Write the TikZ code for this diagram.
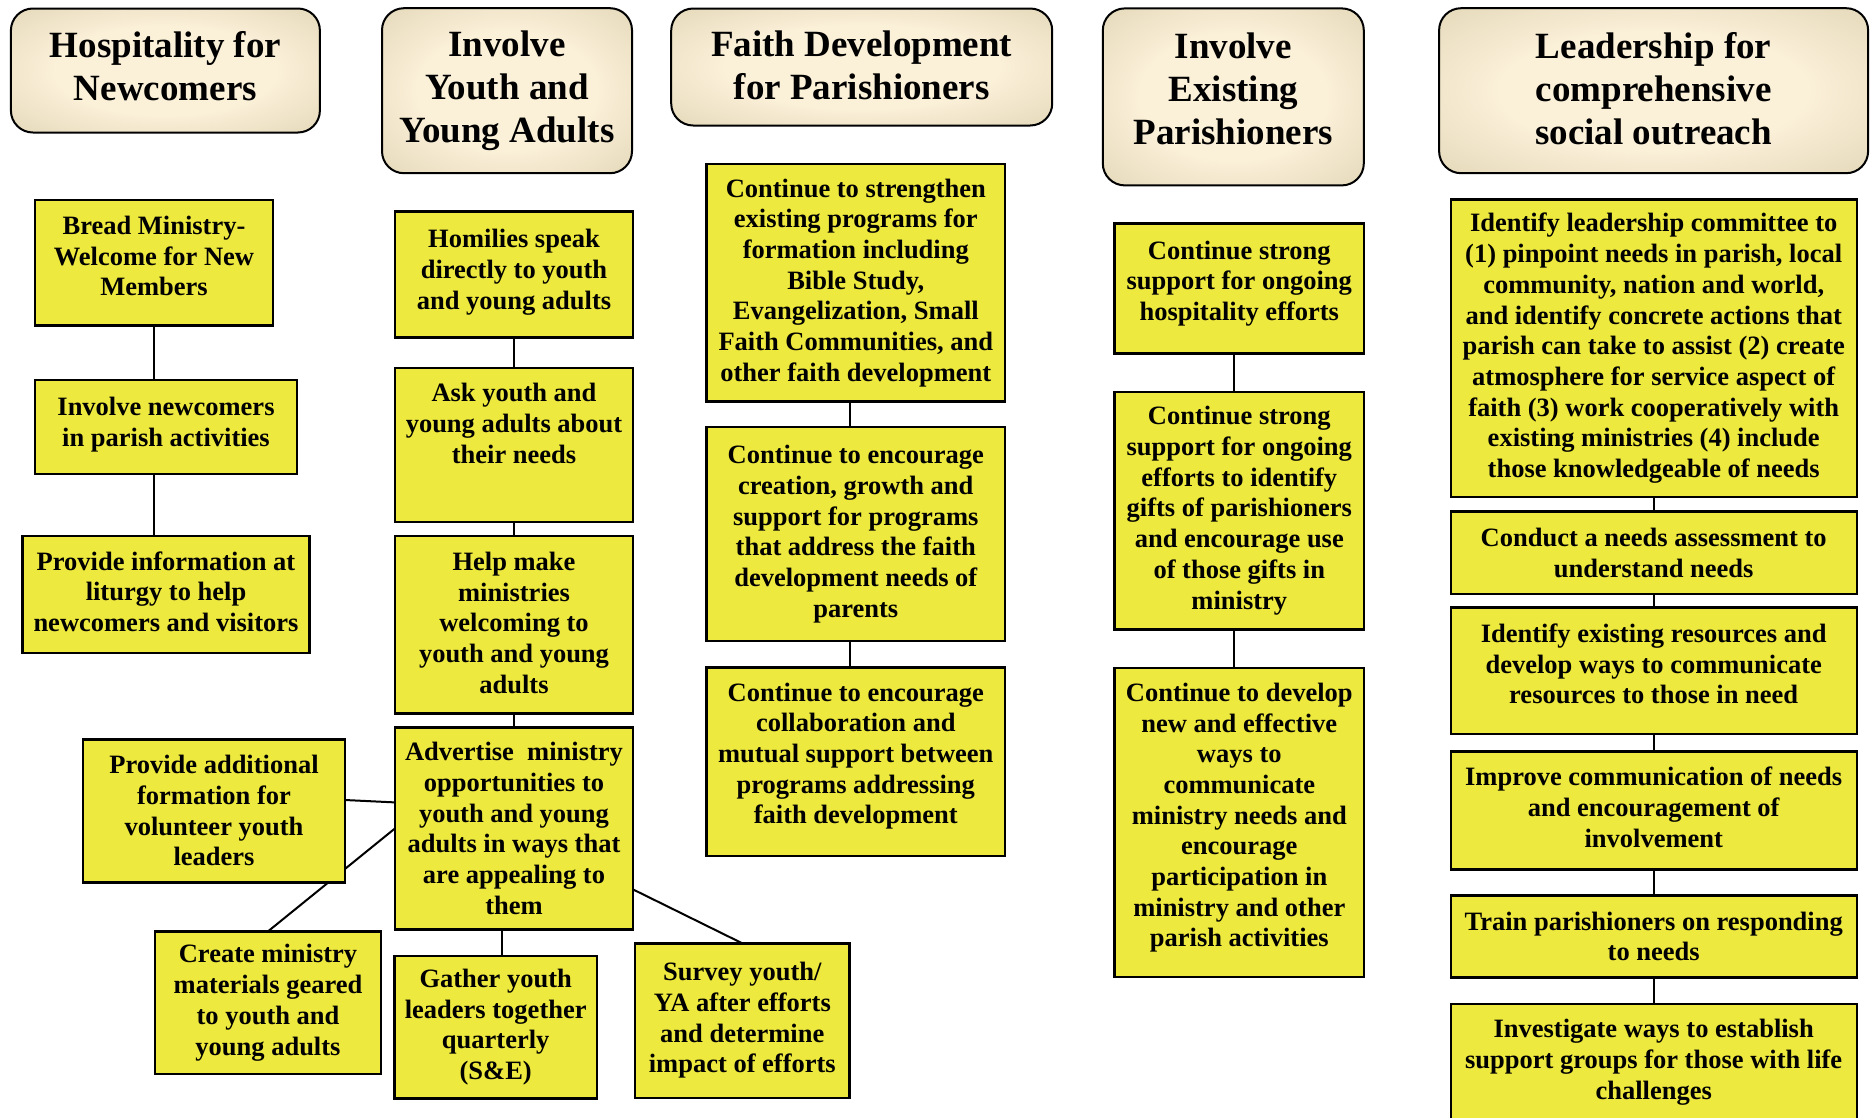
\documentclass[tikz,border=0pt]{standalone}
\usepackage{fontspec}
\setmainfont{Liberation Serif}
\usetikzlibrary{positioning,backgrounds}
\definecolor{boxyellow}{RGB}{238,233,62}
\definecolor{hdin}{RGB}{251,240,216}
\definecolor{hdout}{RGB}{210,198,162}
\pgfdeclareradialshading{hdrshade}{\pgfpoint{0bp}{0bp}}{color(0bp)=(hdin); color(18bp)=(hdin); color(50bp)=(hdout); color(75bp)=(hdout)}
% extra depth under the last line, to lift the text in its box
\newcommand\droop[1]{\rule[-#1]{0pt}{#1}}

\begin{document}
\begin{tikzpicture}[x=1pt,y=-1pt,
  goal/.style={draw,line width=2pt,rounded corners=22pt,shade,shading=hdrshade,
    align=center,inner sep=2pt,outer sep=0pt,font=\bfseries\fontsize{37}{43}\selectfont},
  task/.style={draw,line width=2.4pt,fill=boxyellow,align=center,inner sep=3pt,
    outer sep=0pt,font=\bfseries\fontsize{26.5}{30.7}\selectfont},
  link/.style={line width=2pt}]
	\useasboundingbox (0,0) rectangle (1873,1117);
	% headers
	\node[goal,minimum width=309pt,minimum height=124pt] (h1) at (165.4,70.5) {Hospitality for\\Newcomers\droop{10pt}};
	\node[goal,minimum width=250pt,minimum height=165pt] (h2) at (507,90.7) {Involve\\Youth and\\Young Adults};
	\node[goal,minimum width=381pt,minimum height=117pt] (h3) at (861.7,67) {Faith Development\\for Parishioners\droop{4pt}};
	\node[goal,minimum width=261pt,minimum height=177pt] (h4) at (1233.3,96.9) {Involve\\Existing\\Parishioners\droop{17pt}};
	\node[goal,minimum width=429pt,minimum height=165pt] (h5) at (1653.6,90.7) {Leadership for\\comprehensive\\social outreach\droop{5pt}};
	% newcomers
	\node[task,minimum width=238pt,minimum height=125.7pt] (n1) at (154,262.8) {Bread Ministry-\\Welcome for New\\Members\droop{14pt}};
	\node[task,minimum width=262pt,minimum height=94pt] (n2) at (166,427) {Involve newcomers\\in parish activities\droop{10pt}};
	\node[task,minimum width=286.7pt,minimum height=117pt] (n3) at (166,594.5) {Provide information at\\liturgy to help\\newcomers and visitors\droop{6pt}};
	% youth
	\node[task,minimum width=238pt,minimum height=126pt] (y1) at (514,274.4) {Homilies speak\\directly to youth\\and young adults\droop{10pt}};
	\node[task,minimum width=238pt,minimum height=154pt,below=30.4pt of y1] (y2) {Ask youth and\\young adults about\\their needs\droop{43pt}};
	\node[task,minimum width=238pt,minimum height=177.6pt,below=14pt of y2] (y3) {Help make\\ministries\\welcoming to\\youth and young\\adults\droop{4pt}};
	\node[task,minimum width=238pt,minimum height=202pt,below=14pt of y3] (y4) {Advertise~ ministry\\opportunities to\\youth and young\\adults in ways that\\are appealing to\\them};
	\node[task,minimum width=262pt,minimum height=143pt] (y5) at (214,810.8) {Provide additional\\formation for\\volunteer youth\\leaders};
	\node[task,minimum width=226pt,minimum height=142.7pt] (y6) at (268,1002.7) {Create ministry\\materials geared\\to youth and\\young adults};
	\node[task,minimum width=202.6pt,minimum height=142.6pt] (y7) at (495.7,1027) {Gather youth\\leaders together\\quarterly\\(S\&E)};
	\node[task,minimum width=214.6pt,minimum height=154.4pt] (y8) at (742.3,1020.5) {Survey youth/\\YA after efforts\\and determine\\impact of efforts};
	% faith development
	\node[task,minimum width=298.3pt,minimum height=237.7pt] (f1) at (855.8,282.8) {Continue to strengthen\\existing programs for\\formation including\\Bible Study,\\Evangelization, Small\\Faith Communities, and\\other faith development};
	\node[task,minimum width=298.3pt,minimum height=213.8pt,below=25.6pt of f1] (f2) {Continue to encourage\\creation, growth and\\support for programs\\that address the faith\\development needs of\\parents\droop{6pt}};
	\node[task,minimum width=298.3pt,minimum height=188.8pt,below=26.3pt of f2] (f3) {Continue to encourage\\collaboration and\\mutual support between\\programs addressing\\faith development\droop{17pt}};
	% existing parishioners
	\node[task,minimum width=249.6pt,minimum height=130.2pt] (e1) at (1239.3,288.5) {Continue strong\\support for ongoing\\hospitality efforts\droop{16pt}};
	\node[task,minimum width=249.6pt,minimum height=237.7pt,below=38.2pt of e1] (e2) {Continue strong\\support for ongoing\\efforts to identify\\gifts of parishioners\\and encourage use\\of those gifts in\\ministry};
	\node[task,minimum width=249.6pt,minimum height=309.4pt,below=38.2pt of e2] (e3) {Continue to develop\\new and effective\\ways to\\communicate\\ministry needs and\\encourage\\participation in\\ministry and other\\parish activities\droop{15pt}};
	% social outreach
	\node[task,minimum width=406pt,minimum height=297.5pt] (l1) at (1653.7,348.3) {Identify leadership committee to\\(1) pinpoint needs in parish, local\\community, nation and world,\\and identify concrete actions that\\parish can take to assist (2) create\\atmosphere for service aspect of\\faith (3) work cooperatively with\\existing ministries (4) include\\those knowledgeable of needs};
	\node[task,minimum width=406pt,minimum height=82.3pt,below=14.5pt of l1] (l2) {Conduct a needs assessment to\\understand needs};
	\node[task,minimum width=406pt,minimum height=126.3pt,below=13.7pt of l2] (l3) {Identify existing resources and\\develop ways to communicate\\resources to those in need\droop{14pt}};
	\node[task,minimum width=406pt,minimum height=118pt,below=17.7pt of l3] (l4) {Improve communication of needs\\and encouragement of\\involvement\droop{7pt}};
	\node[task,minimum width=406pt,minimum height=82pt,below=26pt of l4] (l5) {Train parishioners on responding\\to needs};
	\node[task,minimum width=406pt,minimum height=125pt,below=26.3pt of l5] (l6) {Investigate ways to establish\\support groups for those with life\\challenges\droop{14pt}};
	% connectors
	\begin{scope}[on background layer]
		\fill[white] (0,0) rectangle (1873,1117);
		\draw[link] (n1.south) -- (n1.south |- n2.north);
		\draw[link] (n1.south |- n2.south) -- (n1.south |- n3.north);
		\draw[link] (y1) -- (y2) (y2) -- (y3) (y3) -- (y4);
		\draw[link] ([yshift=10.8pt]y5.east) -- ([yshift=26pt]y4.west);
		\draw[link] (y4.west) -- (y6.north);
		\draw[link] ([xshift=6.5pt]y7.north) -- ([xshift=6.5pt]y7.north |- y4.south);
		\draw[link] ([yshift=-61pt]y4.east) -- (y8.north);
		\draw[link] ([xshift=-6pt]f1.south) -- ([xshift=-6pt]f2.north) ([xshift=-6pt]f2.south) -- ([xshift=-6pt]f3.north);
		\draw[link] ([xshift=-5pt]e1.south) -- ([xshift=-5pt]e2.north) ([xshift=-5pt]e2.south) -- ([xshift=-5pt]e3.north);
		\draw[link] (l1) -- (l2) (l2) -- (l3) (l3) -- (l4) (l4) -- (l5) (l5) -- (l6);
	\end{scope}
\end{tikzpicture}
\end{document}
